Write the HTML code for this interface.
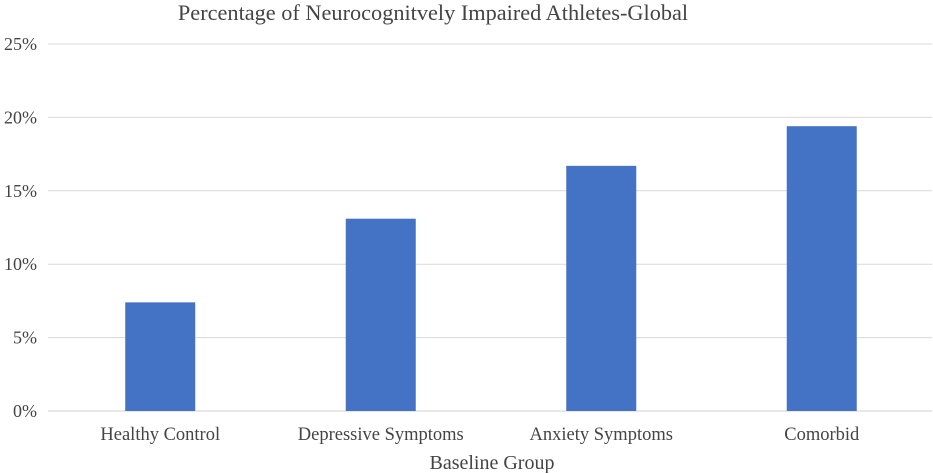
<!DOCTYPE html>
<html><head><meta charset="utf-8"><style>
html,body{margin:0;padding:0;background:#fff;}
svg{display:block;font-family:"Liberation Serif",serif;}
</style></head><body>
<svg id="chart" width="933" height="473">
<text x="433" y="20" text-anchor="middle" font-size="22.3" fill="#444">Percentage of Neurocognitvely Impaired Athletes-Global</text>
<g id="grid"></g><g id="bars"></g><g id="xlabels"></g>
<text x="492" y="469" text-anchor="middle" font-size="20" fill="#444">Baseline Group</text>
</svg>
<script>
const categories=["Healthy Control","Depressive Symptoms","Anxiety Symptoms","Comorbid"];
const values=[7.4,13.1,16.7,19.4];
const ticks=[0,5,10,15,20,25];
const tickLabels=["0%","5%","10%","15%","20%","25%"];
const NS="http://www.w3.org/2000/svg";
const y0=411,pxPer=(411-44)/25,left=50,right=932,catW=(right-left)/categories.length,barW=70;
const y=v=>y0-v*pxPer;
const x=i=>left+catW*(i+0.5);
function mk(t,a,p){const e=document.createElementNS(NS,t);for(const k in a)e.setAttribute(k,a[k]);p.appendChild(e);return e;}
const g=document.getElementById('grid');
ticks.forEach((t,i)=>{
 const l=mk('line',{x1:48,x2:932,y1:y(t),y2:y(t),stroke:t===0?'#d0d0d0':'#d9d9d9','stroke-width':1},g);
 
 
 const tx=mk('text',{x:37,y:y(t)+6,'text-anchor':'end','font-size':18,fill:'#444'},g);
 tx.textContent=tickLabels[i];
 
 
});
const b=document.getElementById('bars'),xl=document.getElementById('xlabels');
values.forEach((v,i)=>{
 const r=mk('rect',{x:x(i)-barW/2,y:y(v),width:barW,height:y0-y(v),fill:'#4472c4'},b);
 
 
 const t=mk('text',{x:x(i),y:440,'text-anchor':'middle','font-size':18.5,fill:'#444'},xl);
 t.textContent=categories[i];
 
 
});
</script>
</body></html>
